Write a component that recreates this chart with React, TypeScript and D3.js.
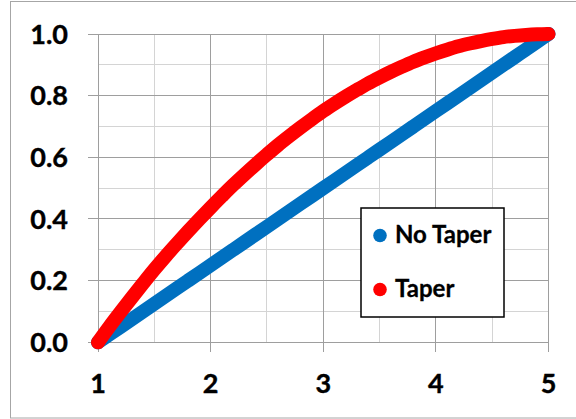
import React from 'react';
import * as d3 from 'd3';

// x positions of the plotted points
const xValues = [
  1.0, 1.1, 1.2, 1.3, 1.4, 1.5, 1.6, 1.7, 1.8, 1.9,
  2.0, 2.1, 2.2, 2.3, 2.4, 2.5, 2.6, 2.7, 2.8, 2.9,
  3.0, 3.1, 3.2, 3.3, 3.4, 3.5, 3.6, 3.7, 3.8, 3.9,
  4.0, 4.1, 4.2, 4.3, 4.4, 4.5, 4.6, 4.7, 4.8, 4.9, 5.0,
];

const noTaper = [
  0.0, 0.025, 0.05, 0.075, 0.1, 0.125, 0.15, 0.175, 0.2, 0.225,
  0.25, 0.275, 0.3, 0.325, 0.35, 0.375, 0.4, 0.425, 0.45, 0.475,
  0.5, 0.525, 0.55, 0.575, 0.6, 0.625, 0.65, 0.675, 0.7, 0.725,
  0.75, 0.775, 0.8, 0.825, 0.85, 0.875, 0.9, 0.925, 0.95, 0.975, 1.0,
];

const taper = [
  0.0, 0.05, 0.098, 0.145, 0.191, 0.236, 0.279, 0.32, 0.36, 0.399,
  0.437, 0.474, 0.51, 0.544, 0.577, 0.609, 0.64, 0.669, 0.697, 0.724,
  0.75, 0.774, 0.797, 0.819, 0.84, 0.859, 0.877, 0.894, 0.91, 0.924,
  0.937, 0.949, 0.96, 0.969, 0.977, 0.984, 0.99, 0.994, 0.997, 0.999, 1.0,
];

const seriesNames = ['No Taper', 'Taper'];
const seriesColors = ['#0070C0', '#FF0000'];

const xTicks = [1, 2, 3, 4, 5];
const xMinor = [1.5, 2.5, 3.5, 4.5];
const yTicks = [0, 0.2, 0.4, 0.6, 0.8, 1.0];
const yMinor = [0.1, 0.3, 0.5, 0.7, 0.9];

const W = 576;
const H = 419;
const FONT = 'Lato, "Open Sans", sans-serif';

export default function App() {
  const x = d3.scaleLinear().domain([1, 5]).range([98, 548.5]);
  const y = d3.scaleLinear().domain([0, 1]).range([342.3, 34]);

  const line = d3
    .line<number>()
    .x((_, i) => x(xValues[i]))
    .y((d) => y(d))
    .curve(d3.curveCatmullRom);

  const series = [noTaper, taper];
  const left = x(1);
  const right = x(5);
  const top = y(1);
  const bottom = y(0);

  return (
    <svg
      width={W}
      height={H}
      style={{ position: 'absolute', left: 0, top: 0, background: '#fff' }}
    >
      {/* outer frame (right edge is outside the picture) */}
      <rect x={10.5} y={1.5} width={700} height={416.5} fill="#fff" stroke="#a6a6a6" strokeWidth={1} />

      {/* minor grid */}
      <g stroke="#d4d4d4" strokeWidth={1} shapeRendering="crispEdges">
        {xMinor.map((v) => (
          <line key={'xm' + v} x1={x(v)} x2={x(v)} y1={top} y2={bottom} />
        ))}
        {yMinor.map((v) => (
          <line key={'ym' + v} x1={left} x2={right} y1={y(v)} y2={y(v)} />
        ))}
      </g>

      {/* major grid with outside tick marks */}
      <g stroke="#9e9e9e" strokeWidth={1} shapeRendering="crispEdges">
        {xTicks.map((v) => (
          <line key={'xt' + v} x1={x(v)} x2={x(v)} y1={top} y2={bottom + 10} />
        ))}
        {yTicks.map((v) => (
          <line key={'yt' + v} x1={left - 10} x2={right} y1={y(v)} y2={y(v)} />
        ))}
      </g>

      {/* series */}
      {series.map((s, i) => (
        <path
          key={seriesNames[i]}
          d={line(s) ?? ''}
          fill="none"
          stroke={seriesColors[i]}
          strokeWidth={14}
          strokeLinecap="round"
          strokeLinejoin="round"
        />
      ))}

      {/* tick labels */}
      <g fontFamily={FONT} fontWeight="bold" fontSize={27} fill="#000" stroke="#000" strokeWidth={0.4}>
        {yTicks.map((v) => (
          <text key={'yl' + v} x={68} y={y(v) + 9.8} textAnchor="end">
            {v.toFixed(1)}
          </text>
        ))}
        {xTicks.map((v) => (
          <text key={'xl' + v} x={x(v)} y={393} textAnchor="middle">
            {v}
          </text>
        ))}
      </g>

      {/* legend */}
      <g>
        <rect x={361} y={208} width={143} height={109} fill="#fff" stroke="#000" strokeWidth={1.5} />
        {seriesNames.map((name, i) => (
          <g key={name}>
            <circle cx={380} cy={235.5 + i * 54} r={6.8} fill={seriesColors[i]} />
            <text
              x={395}
              y={243 + i * 54}
              fontFamily={FONT}
              fontWeight="bold"
              fontSize={24}
              fill="#000"
              stroke="#000"
              strokeWidth={0.3}
            >
              {name}
            </text>
          </g>
        ))}
      </g>
    </svg>
  );
}
